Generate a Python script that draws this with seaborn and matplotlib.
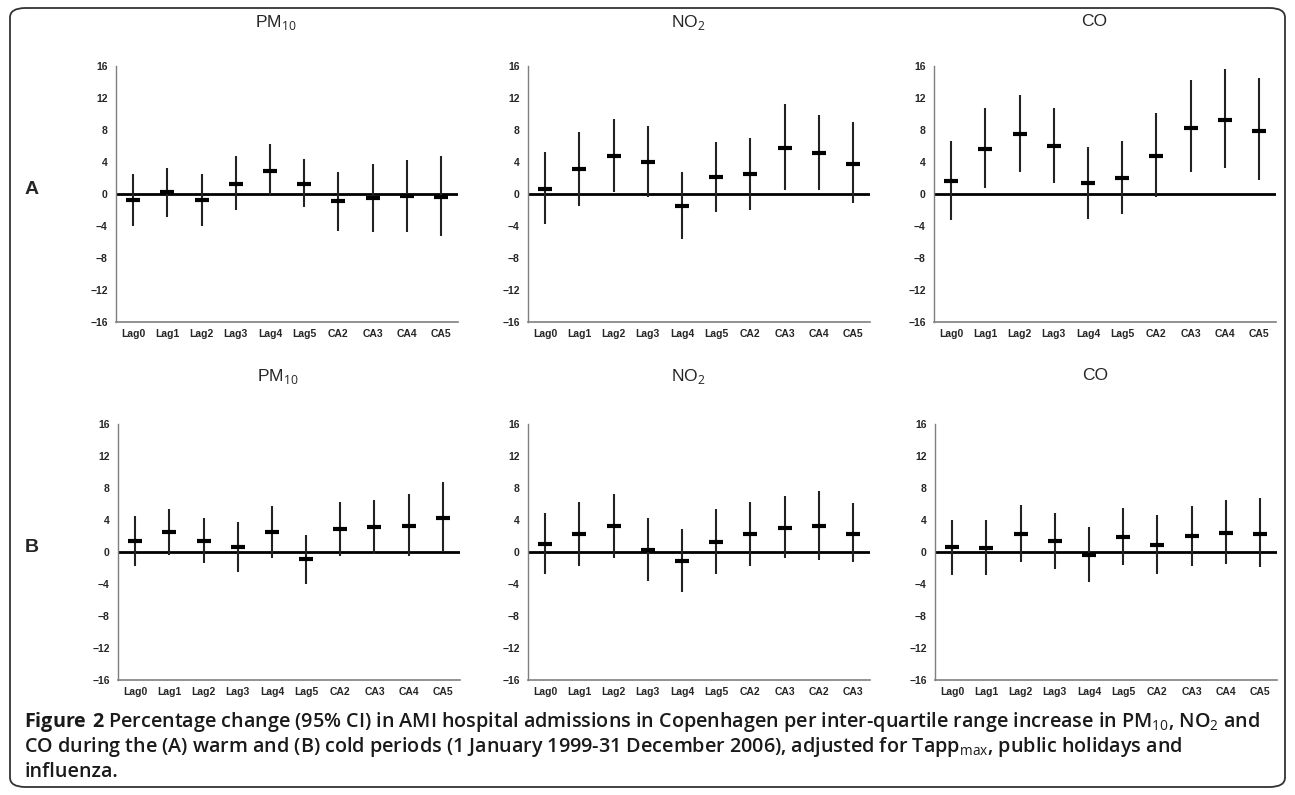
"""
AMI admissions vs air pollution, warm and cold periods.
"""
import numpy as np
import pandas as pd
import seaborn as sns
import matplotlib.pyplot as plt
from matplotlib.patches import FancyBboxPatch

# x-axis labels
lag_labels = ['Lag0', 'Lag1', 'Lag2', 'Lag3', 'Lag4', 'Lag5', 'CA2', 'CA3', 'CA4', 'CA5']
no2_cold_labels = ['Lag0', 'Lag1', 'Lag2', 'Lag3', 'Lag4', 'Lag5', 'CA2', 'CA3', 'CA2', 'CA3']

# (A) warm period
pm10_warm_est = [-0.8, 0.2, -0.8, 1.3, 2.9, 1.3, -0.9, -0.5, -0.3, -0.4]
pm10_warm_lo = [-4.0, -2.9, -4.0, -2.0, -0.3, -1.6, -4.6, -4.8, -4.8, -5.2]
pm10_warm_hi = [2.5, 3.3, 2.5, 4.7, 6.2, 4.4, 2.8, 3.8, 4.2, 4.8]

no2_warm_est = [0.6, 3.1, 4.7, 4.0, -1.5, 2.1, 2.5, 5.7, 5.1, 3.8]
no2_warm_lo = [-3.8, -1.5, 0.25, -0.4, -5.6, -2.2, -2.0, 0.5, 0.5, -1.1]
no2_warm_hi = [5.2, 7.7, 9.4, 8.5, 2.75, 6.5, 7.0, 11.2, 9.9, 9.0]

co_warm_est = [1.6, 5.6, 7.5, 6.0, 1.4, 2.0, 4.7, 8.3, 9.3, 7.9]
co_warm_lo = [-3.2, 0.75, 2.75, 1.4, -3.1, -2.5, -0.4, 2.7, 3.3, 1.7]
co_warm_hi = [6.6, 10.75, 12.4, 10.8, 5.9, 6.6, 10.1, 14.2, 15.6, 14.5]

# (B) cold period
pm10_cold_est = [1.35, 2.45, 1.4, 0.65, 2.5, -0.9, 2.9, 3.1, 3.3, 4.3]
pm10_cold_lo = [-1.7, -0.4, -1.4, -2.45, -0.7, -3.95, -0.45, -0.25, -0.5, 0.0]
pm10_cold_hi = [4.45, 5.4, 4.3, 3.8, 5.8, 2.15, 6.3, 6.5, 7.25, 8.8]

no2_cold_est = [1.0, 2.2, 3.2, 0.2, -1.1, 1.25, 2.25, 3.0, 3.2, 2.2]
no2_cold_lo = [-2.7, -1.7, -0.75, -3.6, -5.0, -2.75, -1.7, -0.75, -1.0, -1.3]
no2_cold_hi = [4.9, 6.2, 7.2, 4.3, 2.85, 5.4, 6.3, 6.95, 7.65, 6.1]

co_cold_est = [0.6, 0.45, 2.3, 1.4, -0.4, 1.9, 0.9, 2.0, 2.4, 2.3]
co_cold_lo = [-2.9, -2.9, -1.2, -2.1, -3.8, -1.6, -2.7, -1.8, -1.5, -1.9]
co_cold_hi = [4.0, 3.95, 5.9, 4.9, 3.1, 5.5, 4.6, 5.8, 6.5, 6.8]

sns.set_style('white')
plt.rcParams['font.family'] = ['Liberation Sans', 'DejaVu Sans']
plt.rcParams['mathtext.fontset'] = 'custom'
plt.rcParams['mathtext.rm'] = 'Open Sans'
plt.rcParams['mathtext.bf'] = 'Open Sans:bold'

fig = plt.figure(figsize=(12.95, 7.95), dpi=100)

panels = [
    ('PM$_{\\rm 10}$', lag_labels, pm10_warm_est, pm10_warm_lo, pm10_warm_hi, 116, 0),
    ('NO$_{\\rm 2}$', lag_labels, no2_warm_est, no2_warm_lo, no2_warm_hi, 528, 0),
    ('CO', lag_labels, co_warm_est, co_warm_lo, co_warm_hi, 934, 0),
    ('PM$_{\\rm 10}$', lag_labels, pm10_cold_est, pm10_cold_lo, pm10_cold_hi, 118, 1),
    ('NO$_{\\rm 2}$', no2_cold_labels, no2_cold_est, no2_cold_lo, no2_cold_hi, 528, 1),
    ('CO', lag_labels, co_cold_est, co_cold_lo, co_cold_hi, 935, 1),
]

W, H = 1295.0, 795.0
for title, labels, est, lo, hi, left_px, row in panels:
    top_px = 66 if row == 0 else 424
    ax = fig.add_axes([left_px / W, 1 - (top_px + 256) / H, 342 / W, 256 / H])
    df = pd.DataFrame({'pos': np.arange(len(labels)) + 0.5, 'est': est, 'lo': lo, 'hi': hi})

    ax.axhline(0, color='black', lw=2, zorder=1)
    ax.vlines(df['pos'], df['lo'], df['hi'], color='#222222', lw=1.5, zorder=2)
    sns.scatterplot(data=df, x='pos', y='est', marker='_', s=110, color='black',
                    linewidth=3, legend=False, ax=ax, zorder=3)

    ax.set_xlim(0, len(labels))
    ax.set_ylim(-16, 16)
    ax.set_yticks(range(-16, 17, 4))
    ax.set_xticks(df['pos'])
    ax.set_xticklabels(labels, fontsize=7.5, fontweight='bold')
    ax.set_xticks(np.arange(len(labels) + 1), minor=True)
    ax.tick_params(axis='x', which='major', length=0, pad=5)
    ax.tick_params(axis='x', which='minor', length=4, width=0.8, color='#555555', direction='out')
    ax.tick_params(axis='y', length=3, width=0.8, color='#555555', direction='out',
                   labelsize=7.5, pad=3)
    for t in ax.get_yticklabels():
        t.set_fontweight('bold')
    ax.set_xlabel('')
    ax.set_ylabel('')
    sns.despine(ax=ax)
    ax.spines['left'].set_color('#7f7f7f')
    ax.spines['bottom'].set_color('#7f7f7f')
    ax.spines['left'].set_linewidth(1.0)
    ax.spines['bottom'].set_linewidth(1.2)

    title_y = 22 if row == 0 else 376
    fig.text((left_px + 160) / W, 1 - title_y / H, title, ha='center', va='center', fontsize=12.5)

fig.text(32 / W, 1 - 190 / H, 'A', fontsize=14, fontweight='bold', ha='center', va='center')
fig.text(32 / W, 1 - 548 / H, 'B', fontsize=14, fontweight='bold', ha='center', va='center')

# caption
cap_lines = [
    r'$\bf{Figure\ 2}$ Percentage change (95% CI) in AMI hospital admissions in Copenhagen per '
    r'inter-quartile range increase in PM$_{\rm 10}$, NO$_{\rm 2}$ and',
    r'CO during the (A) warm and (B) cold periods (1 January 1999-31 December 2006), adjusted for '
    r'Tapp$_{\rm max}$, public holidays and',
    'influenza.',
]
for i, line in enumerate(cap_lines):
    fig.text(24 / W, 1 - (722 + 25 * i) / H, line, family=['Open Sans', 'DejaVu Sans'],
             fontsize=14.2, fontweight='semibold', color='#1a1a1a', ha='left', va='center')

box = FancyBboxPatch((10 / W, 8 / H), 1275 / W, 779 / H, boxstyle='round,pad=0,rounding_size=0.012',
                     transform=fig.transFigure, fill=False, edgecolor='#333333', lw=1.3)
fig.patches.append(box)

plt.savefig('out.png', dpi=100)
